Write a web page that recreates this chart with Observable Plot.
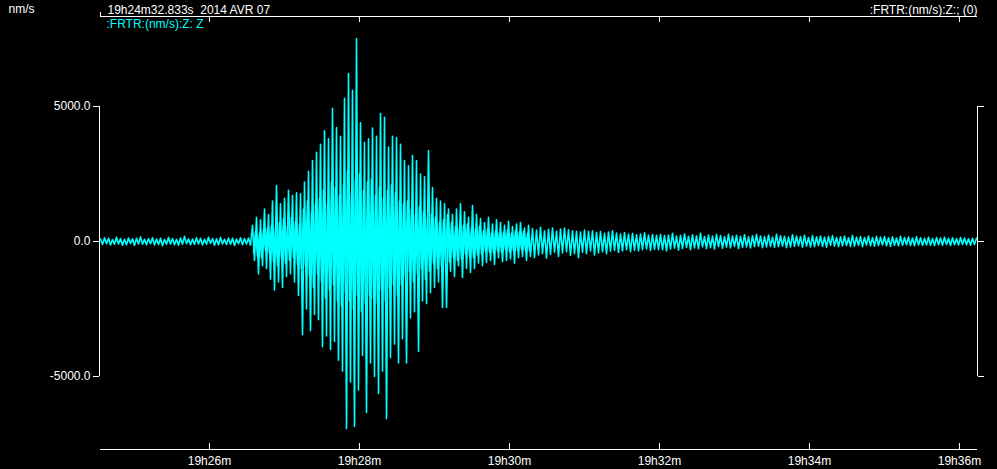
<!DOCTYPE html>
<html>
<head>
<meta charset="utf-8">
<script src="https://cdn.jsdelivr.net/npm/d3@7"></script>
<script src="https://cdn.jsdelivr.net/npm/@observablehq/plot@0.6"></script>
<style>
  html, body { margin: 0; padding: 0; background: #000; }
  #chart { width: 997px; height: 469px; }
</style>
</head>
<body>
<div id="chart"></div>
<script>
// ---- Data ----
const startTime = "2014-04-07T19:24:32.833Z";   // 19h24m32.833s 2014 AVR 07
const sampleSec = 1.6;                           // spacing of the read peaks
const innerStartSec = 122.4;                     // first inner (core) oscillation reading
const axisEndSec = 701.6;                        // right edge of the time axis

// outer alternating peak values (nm/s), segment by segment
const preEvent = [90,-110,140,-80,120,-130,70,-100,160,-90,
  110,-140,80,-120,130,-70,100,-150,120,-90,
  170,-100,80,-120,110,-80,140,-130,90,-110,
  120,-160,70,-100,150,-90,110,-120,80,-140,
  130,-100,190,-80,100,-120,90,-110,140,-90,
  120,-130,80,-100,160,-70,110,-140,100,-120,
  150,-90,80,-110,130,-100,120,-150,90,-80,
  140,-120,110,-90,130,-140];
const pOnset = [600,-700,900,-1200,800,-900,1200,-1000,1000,-1400,
  1500,-1800,2070,-1500,1400,-1700,1600,-1300,1900,-1200,
  1700,-1500,1800,-2000];
const sPeak = [1770,-3450,2200,-2500,2600,-3300,3000,-2700,3300,-2900,
  3600,-3900,4100,-3500,3800,-4000,4930,-3700,4220,-4400,
  3900,-4800,5300,-6930,6220,-5200,5600,-6850,7520,-5500,
  4400,-4220,3670,-6330,3800];
const sDecay = [-4500,4200,-5000,3900,-5630,4740,-4800,4600,-6560,3500,
  -4300,3900,-3800,3850,-4500,3600,-3600,3000,-4500,2800,
  -2830,3180,-2600,3000,-4070,2500,-2200,2400,-2300,3370,
  -1900,2000,-1700,1600,-1500,1500,-2440,1400,-2440,1200];
const coda1 = [-1100,1000,-1300,1200,-900,1400,-1330,1100,-1000,900,
  -1150,1330,-1000,1000,-800,850,-900,700,-780,900,
  -700,650,-850,800,-600,700,-750,600,-700,750,
  -650,550,-800,650,-600,700,-550,500,-700,600];
const coda2 = [-550,480,-600,420,-500,530,-450,400,-620,450,
  -480,500,-400,380,-550,460,-420,500,-380,430,
  -520,400,-450,380,-600,350,-400,420,-450,380,
  -350,400,-500,330,-420,370,-380,300,-450,350,
  -360,400,-330,310,-400,280,-350,330,-300,270,
  -380,300,-320,250,-350,280,-300,320,-270,240,
  -330,260,-290,230,-300];
const tail = [260,-300,220,-350,240,-280,300,-250,200,-320,
  230,-260,280,-220,190,-300,250,-240,210,-270,
  300,-200,180,-260,240,-230,200,-280,260,-190,
  220,-250,180,-210,270,-240,200,-180,230,-260,
  190,-220,250,-200,170,-240,210,-190,260,-170,
  200,-230,180,-200,240,-180,160,-220,270,-190,
  210,-170,190,-230,160,-200,250,-180,200,-160,
  180,-210,230,-170,150,-200,220,-190,170,-150,
  200,-180,160,-210,190,-140,220,-170,150,-190,
  170,-160,200,-150,140,-180,230,-170,160,-140,
  180,-190,150,-130,200,-160,140,-170,190,-150,
  160,-130,180,-160,140,-180,170,-140,130,-160,
  190,-140,150,-120,170,-150,130,-160,180,-130,
  140,-150,120,-130,160,-140,110,-150,150,-120,
  130,-140,160,-110,120,-150,140,-120,110,-130,
  150,-110,130,-120,100,-140,120,-110,130];

// inner (solid core) oscillations of the event, between the outer peaks
const innerP = [-400,350,-550,300,-600,450,-350,500,-450,
  600,-750,500,-900,700,-650,850,-800,550,-700,900,-600,750,-850,650];
const innerS = [-1000,1200,-900,1500,-1300,1100,-1700,1400,-1200,1600,
  -1500,1900,-2100,1400,-1800,2200,-1600,2000,-2200,1700,
  -2400,2100,-1900,2600,-2200,1800,-2500,2300,-2000,2500,-2600,1900,-2300,2200,-2000,
  2300,-2100,1700,-2300,2000,-1800,1600,-2200,1900,-1700,2100,-1600,1800,-2000,1500];
const innerCoda = [-1600,1400,-1300,1500,-1100,1200,-1500,1000,-1200,1300,-1000,1100,-1400,900,-1100,
  1000,-800,900,-1000,700,-900,800,-700,1000,-750,
  700,-600,550,-700,500,-650,600,-450,650,-550,500,-600,450,-500,550,
  -450,400,-350,450,-400,300,-420,380,-350,320,-400,350,-300,420,-380,300,-350,400,-320,350,-300,380,-330,300,-350];

const yTicks = [-5000, 0, 5000];
const xTickLabels = ["2014-04-07T19:26:00Z","2014-04-07T19:28:00Z","2014-04-07T19:30:00Z",
  "2014-04-07T19:32:00Z","2014-04-07T19:34:00Z","2014-04-07T19:36:00Z"];
const yDomain = [-7704, 8333];

// ---- Build ----
const t0 = new Date(startTime).getTime();
const tEnd = new Date(t0 + axisEndSec * 1000);
const outer = [...preEvent, ...pOnset, ...sPeak, ...sDecay, ...coda1, ...coda2, ...tail];
const trace = outer.map((v, i) => ({t: new Date(t0 + i * sampleSec * 1000), v}));
const inner = [...innerP, ...innerS, ...innerCoda]
  .map((v, i) => ({t: new Date(t0 + (innerStartSec + i * sampleSec) * 1000), v}));
const xTicks = xTickLabels.map(s => new Date(s));
const fmt = d3.utcFormat("%Hh%Mm");
const W = "#ffffff";
const C = "#00ffff";

const chart = Plot.plot({
  width: 997,
  height: 469,
  marginLeft: 100,
  marginRight: 20,
  marginTop: 16,
  marginBottom: 20,
  style: {background: "#000", color: W, fontFamily: "'Liberation Sans', Arial, sans-serif", fontSize: "12px"},
  x: {type: "utc", domain: [new Date(t0), tEnd], label: null},
  y: {domain: yDomain, label: null},
  marks: [
    // frame top and bottom lines
    Plot.ruleY([yDomain[0], yDomain[1]], {stroke: W}),
    // top and bottom time ticks (inward)
    Plot.ruleX(xTicks, {stroke: W, insetBottom: 427}),
    Plot.ruleX(xTicks, {stroke: W, insetTop: 427}),
    Plot.ruleX([new Date(t0)], {stroke: W, insetBottom: 429, dy: -4}),
    Plot.axisX({anchor: "bottom", ticks: xTicks, tickSize: 0, tickPadding: 7, tickFormat: fmt, fontSize: 12, color: W, label: null}),
    // left and right amplitude axes
    Plot.ruleX([new Date(t0)], {y1: yTicks[0], y2: yTicks[2], stroke: W, dx: -1}),
    Plot.ruleX([tEnd], {y1: yTicks[0], y2: yTicks[2], stroke: W}),
    Plot.axisY({anchor: "left", ticks: yTicks, tickSize: 6, tickPadding: 3, tickFormat: d => d.toFixed(1), fontSize: 12, color: W, label: null, dx: -1}),
    Plot.axisY({anchor: "right", ticks: yTicks, tickSize: 6, tickFormat: () => "", color: W, label: null}),
    // trace: inner core oscillations + outer peaks
    Plot.line(inner, {x: "t", y: "v", stroke: C, strokeWidth: 1.6}),
    Plot.line(trace, {x: "t", y: "v", stroke: C, strokeWidth: 1.6}),
    // header texts
    Plot.text(["nm/s"], {frameAnchor: "top-left", dx: -92, dy: -4, lineAnchor: "bottom", textAnchor: "start", fill: W, fontSize: 12}),
    Plot.text(["19h24m32.833s  2014 AVR 07"], {frameAnchor: "top-left", dx: 7, dy: -3, lineAnchor: "bottom", textAnchor: "start", fill: W, fontSize: 12}),
    Plot.text([":FRTR:(nm/s):Z:; (0)"], {frameAnchor: "top-right", dx: 0, dy: -3, lineAnchor: "bottom", textAnchor: "end", fill: W, fontSize: 12}),
    Plot.text([":FRTR:(nm/s):Z: Z"], {frameAnchor: "top-left", dx: 6, dy: 3, lineAnchor: "top", textAnchor: "start", fill: C, fontSize: 12})
  ]
});
document.getElementById("chart").appendChild(chart);
</script>
</body>
</html>
